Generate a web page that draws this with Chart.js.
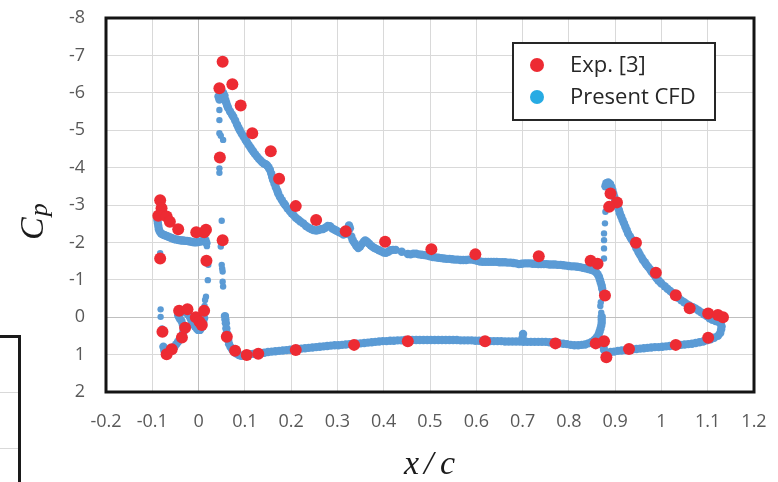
<!DOCTYPE html>
<html>
<head>
<meta charset="utf-8">
<script src="https://cdn.jsdelivr.net/npm/chart.js@4.4.1/dist/chart.umd.min.js"></script>
<style>
  html, body { margin: 0; padding: 0; background: #fff; }
  #wrap { position: relative; width: 778px; height: 482px; }
  .frag { position: absolute; }
</style>
</head>
<body>
<div id="wrap">
  <canvas id="grafico" width="778" height="482"></canvas>
  <div class="frag" style="left:0;top:335px;width:21px;height:3px;background:#1a1a1a"></div>
  <div class="frag" style="left:18px;top:335px;width:3px;height:147px;background:#1a1a1a"></div>
  <div class="frag" style="left:0;top:392px;width:18px;height:1px;background:#d9d9d9"></div>
  <div class="frag" style="left:0;top:448px;width:18px;height:1px;background:#d9d9d9"></div>
</div>
<script>
// ticks
const xTicks = [-0.2, -0.1, 0, 0.1, 0.2, 0.3, 0.4, 0.5, 0.6, 0.7, 0.8, 0.9, 1, 1.1, 1.2];
const xTickLabels = ["-0.2", "-0.1", "0", "0.1", "0.2", "0.3", "0.4", "0.5", "0.6", "0.7", "0.8", "0.9", "1", "1.1", "1.2"];
const yTicks = [-8, -7, -6, -5, -4, -3, -2, -1, 0, 1, 2];
const yTickLabels = ["-8", "-7", "-6", "-5", "-4", "-3", "-2", "-1", "0", "1", "2"];

// experimental points [x/c, Cp]
const expSlat = [
  [-0.083, -3.13], [-0.080, -2.91], [-0.087, -2.71], [-0.069, -2.69], [-0.062, -2.55],
  [-0.044, -2.35], [-0.005, -2.27], [0.016, -2.34], [0.012, -2.27], [-0.083, -1.57],
  [0.017, -1.51], [-0.078, 0.39], [-0.069, 0.99], [-0.058, 0.86], [-0.036, 0.54],
  [-0.029, 0.28], [-0.042, -0.17], [-0.024, -0.21], [-0.006, 0.00], [0.002, 0.12],
  [0.007, 0.21], [0.012, -0.17]
];
const expMain = [
  [0.052, -6.83], [0.045, -6.12], [0.073, -6.23], [0.091, -5.66], [0.116, -4.92],
  [0.046, -4.27], [0.052, -2.06], [0.156, -4.44], [0.174, -3.70], [0.210, -2.97],
  [0.254, -2.60], [0.318, -2.30], [0.403, -2.02], [0.503, -1.82], [0.598, -1.68],
  [0.735, -1.63], [0.847, -1.51], [0.862, -1.43], [0.061, 0.52], [0.079, 0.90],
  [0.104, 1.01], [0.129, 0.98], [0.210, 0.88], [0.336, 0.74], [0.452, 0.64],
  [0.619, 0.64], [0.771, 0.70], [0.858, 0.70], [0.876, 0.64]
];
const expFlap = [
  [0.878, -0.58], [0.890, -3.31], [0.904, -3.07], [0.887, -2.95], [0.945, -1.99],
  [0.988, -1.19], [1.031, -0.59], [1.061, -0.24], [1.101, -0.10], [1.122, -0.06],
  [1.133, 0.00], [1.101, 0.55], [1.031, 0.74], [0.930, 0.85], [0.881, 1.07]
];

// CFD points [x/c, Cp]
const cfdSlatUpper = [
  [-0.089, -2.60], [-0.088, -2.52], [-0.087, -2.44], [-0.086, -2.36], [-0.084, -2.29],
  [-0.081, -2.24], [-0.077, -2.21], [-0.073, -2.19], [-0.069, -2.17], [-0.065, -2.15],
  [-0.061, -2.13], [-0.057, -2.11], [-0.053, -2.09], [-0.049, -2.08], [-0.045, -2.07],
  [-0.041, -2.06], [-0.037, -2.05], [-0.033, -2.05], [-0.029, -2.04], [-0.025, -2.04],
  [-0.021, -2.03], [-0.017, -2.02], [-0.013, -2.01], [-0.009, -2.00], [-0.005, -2.00],
  [-0.001, -2.01], [0.003, -2.02], [0.007, -2.03], [0.011, -2.05], [0.015, -2.06],
  [0.017, -1.98]
];
const cfdSlatLower = [
  [0.012, -0.12], [0.012, 0.03], [0.010, 0.13], [0.009, 0.21], [0.006, 0.28],
  [0.003, 0.34], [-0.001, 0.34], [-0.004, 0.30], [-0.008, 0.24], [-0.011, 0.18],
  [-0.014, 0.12], [-0.017, 0.04], [-0.020, -0.03], [-0.024, -0.09], [-0.029, -0.15],
  [-0.033, -0.16], [-0.037, -0.15], [-0.041, -0.10], [-0.044, -0.05], [-0.041, 0.03],
  [-0.037, 0.10], [-0.034, 0.20], [-0.032, 0.30], [-0.033, 0.40], [-0.036, 0.50],
  [-0.040, 0.58], [-0.044, 0.65], [-0.048, 0.72], [-0.052, 0.79], [-0.056, 0.85],
  [-0.060, 0.91], [-0.065, 0.96], [-0.070, 0.97], [-0.074, 0.90], [-0.076, 0.79]
];
const cfdMainLe = [
  [0.043, -5.90], [0.045, -5.82], [0.047, -5.92], [0.050, -5.97], [0.053, -6.00],
  [0.056, -5.92], [0.058, -5.80], [0.060, -5.72], [0.062, -5.65], [0.057, -0.03],
  [0.058, 0.06], [0.059, 0.16], [0.060, 0.30], [0.061, 0.42], [0.062, 0.52],
  [0.064, 0.62], [0.066, 0.72], [0.069, 0.80], [0.073, 0.87], [0.077, 0.93],
  [0.082, 0.97], [0.087, 1.01], [0.092, 1.03]
];
const cfdMainUpper = [
  [0.064, -5.59], [0.068, -5.50], [0.072, -5.42], [0.075, -5.36], [0.079, -5.26],
  [0.083, -5.15], [0.086, -5.07], [0.089, -5.00], [0.093, -4.91], [0.097, -4.83],
  [0.101, -4.75], [0.104, -4.69], [0.108, -4.61], [0.112, -4.54], [0.115, -4.48],
  [0.118, -4.43], [0.122, -4.36], [0.126, -4.30], [0.130, -4.24], [0.133, -4.20],
  [0.137, -4.15], [0.141, -4.11], [0.145, -4.09], [0.148, -4.06], [0.151, -4.01],
  [0.154, -3.94], [0.157, -3.84], [0.159, -3.75], [0.161, -3.67], [0.164, -3.57],
  [0.167, -3.47], [0.170, -3.38], [0.172, -3.31], [0.176, -3.21], [0.180, -3.13],
  [0.184, -3.05], [0.187, -3.00], [0.192, -2.91], [0.197, -2.84], [0.201, -2.78],
  [0.205, -2.73], [0.210, -2.66], [0.215, -2.61], [0.220, -2.56], [0.226, -2.51],
  [0.232, -2.44], [0.238, -2.39], [0.243, -2.36], [0.248, -2.33], [0.254, -2.32],
  [0.259, -2.33], [0.264, -2.35], [0.269, -2.36], [0.274, -2.39], [0.279, -2.44],
  [0.284, -2.43], [0.289, -2.37], [0.294, -2.34], [0.298, -2.31], [0.303, -2.28],
  [0.308, -2.25], [0.313, -2.21], [0.318, -2.23], [0.322, -2.33], [0.325, -2.45],
  [0.327, -2.38], [0.330, -2.16], [0.333, -2.06], [0.337, -1.98], [0.341, -1.90],
  [0.345, -1.85], [0.349, -1.89], [0.353, -1.96], [0.357, -2.02], [0.360, -2.05],
  [0.364, -2.02], [0.368, -1.97], [0.372, -1.92], [0.376, -1.88], [0.380, -1.85],
  [0.385, -1.82], [0.390, -1.79], [0.395, -1.76], [0.400, -1.73], [0.405, -1.72],
  [0.410, -1.75], [0.415, -1.79], [0.420, -1.80], [0.426, -1.80], [0.439, -1.75],
  [0.452, -1.69], [0.458, -1.68], [0.464, -1.70], [0.470, -1.70], [0.476, -1.68],
  [0.482, -1.67], [0.488, -1.66], [0.494, -1.65], [0.500, -1.63], [0.506, -1.61],
  [0.512, -1.60], [0.518, -1.59], [0.524, -1.58], [0.530, -1.57], [0.536, -1.56],
  [0.542, -1.56], [0.548, -1.55], [0.554, -1.54], [0.560, -1.54], [0.566, -1.53],
  [0.572, -1.53], [0.578, -1.53], [0.584, -1.54], [0.590, -1.54], [0.596, -1.53],
  [0.602, -1.51], [0.608, -1.49], [0.614, -1.48], [0.620, -1.48], [0.626, -1.48],
  [0.632, -1.48], [0.638, -1.48], [0.644, -1.48], [0.650, -1.47], [0.656, -1.47],
  [0.662, -1.47], [0.668, -1.46], [0.674, -1.46], [0.680, -1.45], [0.686, -1.44],
  [0.692, -1.42], [0.698, -1.43], [0.704, -1.44], [0.710, -1.44], [0.716, -1.44],
  [0.722, -1.43], [0.728, -1.43], [0.734, -1.42], [0.740, -1.42], [0.746, -1.42],
  [0.752, -1.42], [0.758, -1.41], [0.764, -1.41], [0.770, -1.41], [0.776, -1.40],
  [0.782, -1.40], [0.788, -1.39], [0.794, -1.38], [0.800, -1.37], [0.806, -1.36],
  [0.812, -1.36], [0.818, -1.35], [0.824, -1.34], [0.830, -1.32], [0.836, -1.31],
  [0.842, -1.29], [0.848, -1.27], [0.853, -1.25], [0.858, -1.21], [0.862, -1.15],
  [0.865, -1.08], [0.867, -1.00], [0.869, -0.92], [0.871, -0.84], [0.872, -0.76],
  [0.871, -0.01], [0.871, 0.07], [0.871, 0.15], [0.870, 0.23], [0.868, 0.32],
  [0.866, 0.40], [0.864, 0.47], [0.860, 0.54], [0.855, 0.61], [0.849, 0.66],
  [0.842, 0.70], [0.835, 0.73], [0.828, 0.74], [0.820, 0.75], [0.812, 0.75],
  [0.804, 0.74], [0.796, 0.72], [0.788, 0.71], [0.780, 0.70]
];
const cfdMainLower = [
  [0.097, 1.02], [0.103, 1.00], [0.110, 0.99], [0.118, 0.98], [0.126, 0.97],
  [0.134, 0.96], [0.142, 0.95], [0.150, 0.93], [0.158, 0.92], [0.166, 0.91],
  [0.174, 0.90], [0.182, 0.89], [0.190, 0.88], [0.198, 0.87], [0.206, 0.86],
  [0.214, 0.85], [0.222, 0.84], [0.230, 0.83], [0.238, 0.82], [0.246, 0.81],
  [0.254, 0.80], [0.262, 0.79], [0.270, 0.78], [0.278, 0.77], [0.286, 0.76],
  [0.294, 0.75], [0.302, 0.75], [0.310, 0.74], [0.318, 0.73], [0.326, 0.72],
  [0.334, 0.72], [0.342, 0.71], [0.350, 0.70], [0.358, 0.69], [0.366, 0.68],
  [0.374, 0.67], [0.382, 0.66], [0.390, 0.65], [0.398, 0.64], [0.406, 0.64],
  [0.414, 0.63], [0.422, 0.63], [0.430, 0.62], [0.438, 0.62], [0.446, 0.61],
  [0.454, 0.61], [0.462, 0.61], [0.470, 0.61], [0.478, 0.61], [0.486, 0.61],
  [0.494, 0.61], [0.502, 0.61], [0.510, 0.61], [0.518, 0.61], [0.526, 0.61],
  [0.534, 0.61], [0.542, 0.61], [0.550, 0.61], [0.558, 0.61], [0.566, 0.62],
  [0.574, 0.62], [0.582, 0.62], [0.590, 0.62], [0.598, 0.63], [0.606, 0.63],
  [0.614, 0.63], [0.622, 0.64], [0.630, 0.64], [0.638, 0.64], [0.646, 0.64],
  [0.654, 0.64], [0.662, 0.65], [0.670, 0.65], [0.678, 0.65], [0.686, 0.65],
  [0.694, 0.65], [0.700, 0.55], [0.701, 0.45], [0.702, 0.66], [0.710, 0.66],
  [0.718, 0.66], [0.726, 0.66], [0.734, 0.66], [0.742, 0.66], [0.750, 0.66],
  [0.758, 0.67], [0.766, 0.67], [0.774, 0.68]
];
const cfdFlapUpper = [
  [0.879, -3.50], [0.881, -3.58], [0.885, -3.60], [0.889, -3.56], [0.892, -3.48],
  [0.894, -3.40], [0.896, -3.31], [0.898, -3.22], [0.900, -3.14], [0.903, -3.05],
  [0.905, -2.96], [0.908, -2.87], [0.910, -2.78], [0.913, -2.69], [0.916, -2.60],
  [0.919, -2.51], [0.922, -2.42], [0.925, -2.33], [0.928, -2.24], [0.932, -2.16],
  [0.935, -2.09], [0.939, -2.02], [0.943, -1.93], [0.946, -1.84], [0.950, -1.75],
  [0.953, -1.68], [0.957, -1.60], [0.960, -1.53], [0.964, -1.47], [0.967, -1.41],
  [0.971, -1.35], [0.975, -1.29], [0.978, -1.23], [0.982, -1.17], [0.986, -1.11],
  [0.989, -1.05], [0.993, -0.99], [0.997, -0.94], [1.000, -0.90], [1.007, -0.83],
  [1.013, -0.76], [1.019, -0.70], [1.025, -0.64], [1.031, -0.57], [1.037, -0.51],
  [1.043, -0.45], [1.049, -0.40], [1.055, -0.35], [1.061, -0.31], [1.068, -0.27],
  [1.074, -0.23], [1.080, -0.18], [1.086, -0.13], [1.092, -0.08], [1.098, -0.03],
  [1.104, 0.03], [1.110, 0.07], [1.117, 0.10], [1.123, 0.12], [1.128, 0.17],
  [1.130, 0.25]
];
const cfdFlapLower = [
  [1.129, 0.33], [1.127, 0.42], [1.122, 0.50], [1.114, 0.55], [1.106, 0.59],
  [1.098, 0.62], [1.090, 0.65], [1.082, 0.67], [1.074, 0.69], [1.066, 0.71],
  [1.058, 0.72], [1.050, 0.73], [1.042, 0.74], [1.034, 0.75], [1.026, 0.76],
  [1.018, 0.77], [1.010, 0.78], [1.002, 0.79], [0.994, 0.80], [0.986, 0.80],
  [0.978, 0.81], [0.970, 0.82], [0.962, 0.83], [0.954, 0.84], [0.946, 0.85],
  [0.938, 0.86], [0.930, 0.87], [0.922, 0.88], [0.914, 0.89], [0.906, 0.90],
  [0.898, 0.92], [0.890, 0.93], [0.884, 0.96], [0.880, 1.00], [0.875, 0.80],
  [0.876, 0.88]
];
// isolated CFD points (smaller dots)
const cfdSparse = [
  [-0.083, -1.71], [0.018, -1.90], [0.021, -1.40], [0.020, -0.99], [0.016, -0.55],
  [0.014, -0.46], [0.013, -0.30], [0.012, -0.22], [-0.082, -0.21], [-0.082, -0.01],
  [-0.079, 0.30], [0.045, -5.54], [0.045, -5.27], [0.045, -4.92], [0.048, -4.85],
  [0.053, -4.74], [0.045, -3.98], [0.045, -3.86], [0.050, -2.58], [0.048, -1.89],
  [0.050, -1.40], [0.051, -1.30], [0.052, -1.22], [0.052, -0.95], [0.053, -0.82],
  [0.872, -0.66], [0.869, -0.40], [0.868, -0.30], [0.870, -0.12], [0.879, -2.82],
  [0.878, -2.51], [0.876, -2.24], [0.876, -2.06], [0.876, -1.84], [0.876, -1.57]
];

const cfdDense = [
  ...cfdSlatUpper, ...cfdSlatLower, ...cfdMainLe, ...cfdMainUpper,
  ...cfdMainLower, ...cfdFlapUpper, ...cfdFlapLower
];
const expData = [...expSlat, ...expMain, ...expFlap].map(p => ({ x: p[0], y: p[1] }));
const cfdData = [...cfdDense, ...cfdSparse].map(p => ({ x: p[0], y: p[1] }));

const legendColors = ["#ed2b33", "#27abe3"];

function sinPadding(axis) {
  axis.paddingTop = 0;
  axis.paddingBottom = 0;
  axis.paddingLeft = 0;
  axis.paddingRight = 0;
}

const marcoPlugin = {
  id: "marco",
  beforeDatasetsDraw(chart) {
    const { ctx, chartArea: a } = chart;
    ctx.save();
    ctx.strokeStyle = "#141414";
    ctx.lineWidth = 3;
    ctx.strokeRect(a.left, a.top, a.right - a.left, a.bottom - a.top);
    ctx.restore();
  },
  afterDraw(chart) {
    const ctx = chart.ctx;
    ctx.save();
    // legend box
    ctx.fillStyle = "#fff";
    ctx.fillRect(513, 43, 202, 77);
    ctx.strokeStyle = "#262626";
    ctx.lineWidth = 2;
    ctx.strokeRect(513, 43, 202, 77);
    chart.data.datasets.forEach((ds, i) => {
      const y = 65 + i * 32;
      ctx.beginPath();
      ctx.fillStyle = legendColors[i];
      ctx.arc(537, y, 7, 0, Math.PI * 2);
      ctx.fill();
      ctx.fillStyle = "#262626";
      ctx.font = "22px 'Open Sans'";
      ctx.textBaseline = "middle";
      ctx.textAlign = "left";
      ctx.fillText(ds.label, 570, y + 1);
    });
    // axis titles
    ctx.fillStyle = "#1a1a1a";
    ctx.font = "italic 34px 'Liberation Serif'";
    ctx.textBaseline = "alphabetic";
    ctx.textAlign = "left";
    ctx.fillText("x", 404, 474);
    ctx.fillText("/", 424, 474);
    ctx.fillText("c", 440, 474);
    ctx.translate(43, 240);
    ctx.rotate(-Math.PI / 2);
    ctx.fillText("C", 0, 0);
    const w = ctx.measureText("C").width;
    ctx.font = "italic 26px 'Liberation Serif'";
    ctx.fillText("p", w + 1, 4);
    ctx.restore();
  }
};

new Chart(document.getElementById("grafico"), {
  type: "scatter",
  data: {
    datasets: [
      {
        label: "Exp. [3]",
        data: expData,
        backgroundColor: "#ed2b33",
        borderWidth: 0,
        pointRadius: 6
      },
      {
        label: "Present CFD",
        data: cfdData,
        backgroundColor: "#5b9bd5",
        borderWidth: 0,
        pointRadius: c => (c.dataIndex >= cfdDense.length ? 3.2 : 4.2)
      }
    ]
  },
  options: {
    responsive: false,
    animation: false,
    events: [],
    layout: { padding: { top: 18, right: 24, left: 0, bottom: 0 } },
    plugins: { legend: { display: false }, tooltip: { enabled: false } },
    scales: {
      x: {
        type: "linear",
        min: -0.2,
        max: 1.2,
        afterBuildTicks: axis => { axis.ticks = xTicks.map(v => ({ value: v })); },
        afterFit: axis => { axis.height = 90; sinPadding(axis); },
        border: { display: false },
        grid: {
          drawTicks: false,
          color: c => (c.tick && c.tick.value === 0 ? "#bfbfbf" : "#d9d9d9")
        },
        ticks: {
          padding: 19,
          color: "#595959",
          font: { family: "'Open Sans'", size: 18 },
          callback: (v, i) => xTickLabels[i]
        }
      },
      y: {
        type: "linear",
        reverse: true,
        min: -8,
        max: 2,
        afterBuildTicks: axis => { axis.ticks = yTicks.map(v => ({ value: v })); },
        afterFit: axis => { axis.width = 106; sinPadding(axis); },
        border: { display: false },
        grid: {
          drawTicks: false,
          color: c => (c.tick && c.tick.value === 0 ? "#bfbfbf" : "#d9d9d9")
        },
        ticks: {
          padding: 21,
          color: "#595959",
          font: { family: "'Open Sans'", size: 18 },
          callback: (v, i) => yTickLabels[i]
        }
      }
    }
  },
  plugins: [marcoPlugin]
});
</script>
</body>
</html>
